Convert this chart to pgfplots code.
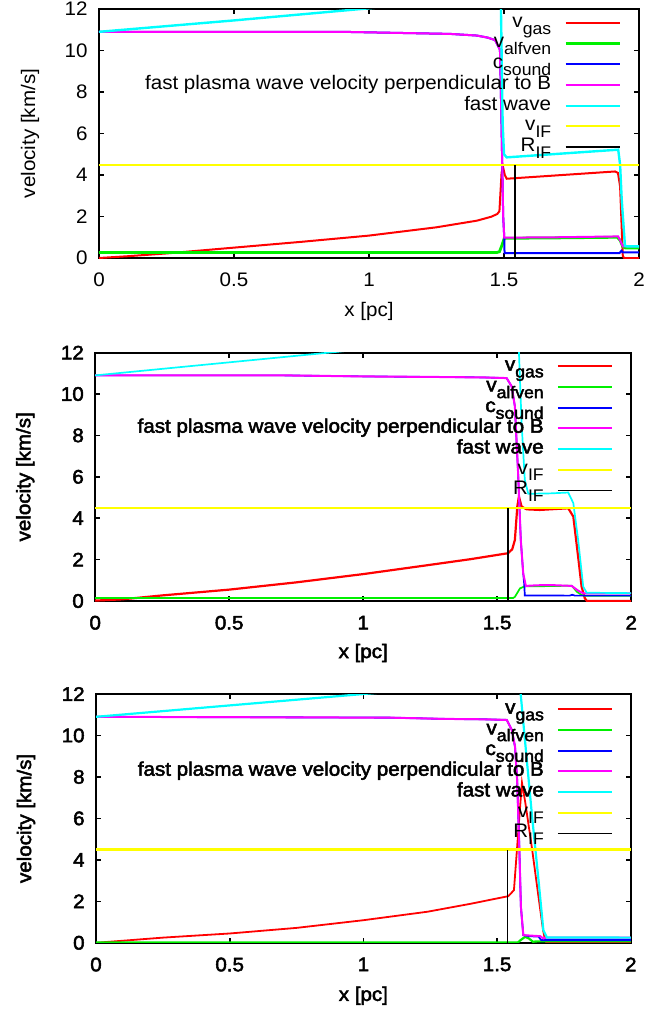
\documentclass[border=0pt]{standalone}
\usepackage{fontspec}
\setmainfont[FakeStretch=1.05]{Liberation Sans}
\newfontfamily\bfake[FakeStretch=1.05,FakeBold=2.5]{Liberation Sans}
\usepackage{pgfplots}
\pgfplotsset{compat=1.18}
\newcommand\sub[1]{\raisebox{-3.4pt}{\fontsize{8.4pt}{8.4pt}\selectfont #1}}
\definecolor{gred}{RGB}{255,0,0}
\definecolor{ggreen}{RGB}{0,240,0}
\definecolor{gblue}{RGB}{0,0,255}
\definecolor{gmag}{RGB}{255,0,255}
\definecolor{gcyan}{RGB}{0,255,255}
\definecolor{gyellow}{RGB}{255,255,0}
\pgfplotsset{
  legend image code/.code={\draw[#1] (0pt,0pt) -- (27pt,0pt);},
  refstyle/.style={
    scale only axis, anchor=south west,
    xmin=0, xmax=2, ymin=0, ymax=12,
    xtick={0,0.5,1,1.5,2}, ytick={0,2,4,6,8,10,12},
    tick align=inside, major tick length=2.5pt, minor tick num=0,
    tick pos=both,
    /pgf/number format/assume math mode=true,
    xlabel={x [pc]}, ylabel={velocity [km/s]},
    yticklabel style={anchor=east, inner sep=0pt, xshift=-5.5pt},
    xticklabel style={anchor=north, inner sep=0pt, yshift=-7.2pt},
    ylabel style={anchor=center, rotate=0},
    xlabel style={at={(axis description cs:0.5,0)}, anchor=center},
    legend cell align=right, legend plot pos=right,
    legend style={draw=none, fill=none, inner sep=0pt, outer sep=0pt,
      row sep=0pt, column sep=6.5pt, anchor=north east,
      nodes={inner sep=0pt, outer sep=0pt, text height=7.3pt, text depth=3.05pt}},
    every axis plot/.append style={no marks, sharp plot},
  },
}
\begin{document}
\begin{tikzpicture}[font=\fontsize{9.8pt}{11.6pt}\selectfont]
\path[use as bounding box] (0pt,0pt) rectangle (335pt,-506pt);
% ---------------- panel 1
\begin{axis}[refstyle,
  at={(49.5pt,-129pt)}, width=270pt, height=124.5pt,
  axis line style={line width=0.75pt}, tick style={line width=0.6pt,black},
  ylabel style={at={(axis description cs:-0.1278,0.5)}},
  xlabel style={yshift=-26.8pt},
  legend style={at={(rel axis cs:1,1)}, xshift=-9pt, yshift=-1.8pt},
  every axis plot/.append style={line width=1pt}]
\addplot[gred] coordinates {(0,0) (0.1,0.08) (0.25,0.22) (0.5,0.5) (0.75,0.78) (1.0,1.08) (1.25,1.48) (1.4,1.8) (1.453,1.99) (1.475,2.12) (1.483,2.25) (1.491,4.1) (1.496,4.41) (1.503,4.0) (1.51,3.82) (1.911,4.17) (1.922,4.1) (1.93,3.45) (1.94,0.1) (1.945,0) (2,0)};
\addlegendentry{v\sub{gas}}
\addplot[ggreen, line width=1.4pt] coordinates {(0,0.27) (1.475,0.27) (1.483,0.3) (1.492,0.6) (1.501,0.95) (1.7,0.97) (1.92,1.0) (1.93,0.85) (1.94,0.55) (1.95,0.48) (2,0.48)};
\addlegendentry{v\sub{alfven}}
\addplot[gblue] coordinates {(0,10.9) (0.9,10.9) (1.1,10.85) (1.3,10.8) (1.4,10.72) (1.44,10.62) (1.467,10.5) (1.485,10.04) (1.49,7) (1.497,2) (1.501,0.98) (1.502,0.24) (1.928,0.24) (1.935,0.35) (1.94,0.27) (2,0.27)};
\addlegendentry{c\sub{sound}}
\addplot[gmag] coordinates {(0,10.9) (0.9,10.9) (1.1,10.85) (1.3,10.8) (1.4,10.72) (1.44,10.62) (1.467,10.5) (1.485,10.04) (1.49,7) (1.497,2) (1.501,0.98) (1.7,1.0) (1.923,1.04) (1.932,0.8) (1.94,0.56) (2,0.56)};
\addlegendentry{fast plasma wave velocity perpendicular to B}
\addplot[gcyan, line width=1.2pt] coordinates {(0,10.9) (0.5,11.45) (0.97,12.0) (1.45,12.55) (1.488,12.6) (1.491,10) (1.495,6.5) (1.5,5.0) (1.51,4.85) (1.923,5.22) (1.93,4.5) (1.936,2.8) (1.948,0.59) (1.955,0.56) (2,0.56)};
\addlegendentry{fast wave}
\addplot[gyellow] coordinates {(0,4.5) (2,4.5)};
\addlegendentry{v\sub{IF}}
\addplot[black] coordinates {(1.542,0) (1.542,4.5)};
\addlegendentry{R\sub{IF}}
\end{axis}
% ---------------- panel 2
\begin{axis}[refstyle,
  at={(47.6pt,-300.5pt)}, width=268pt, height=124.2pt,
  font=\bfake\fontsize{9.8pt}{11.6pt}\selectfont,
  axis line style={line width=1pt}, tick style={line width=0.8pt,black},
  ylabel style={at={(axis description cs:-0.1306,0.5)}},
  xlabel style={yshift=-26pt},
  legend style={at={(rel axis cs:1,1)}, xshift=-9.15pt, yshift=-1.7pt},
  every axis plot/.append style={line width=0.85pt}]
\addplot[gred, line width=1.1pt] coordinates {(0,0.02) (0.1,0.08) (0.25,0.27) (0.5,0.55) (0.75,0.9) (1.0,1.3) (1.24,1.73) (1.4,2.02) (1.541,2.31) (1.556,2.5) (1.566,2.95) (1.575,4.56) (1.581,5.05) (1.591,4.56) (1.61,4.43) (1.659,4.4) (1.765,4.48) (1.784,4.08) (1.802,2.14) (1.815,0.69) (1.827,0.13) (1.835,0) (2,0)};
\addlegendentry{v\sub{gas}}
\addplot[ggreen] coordinates {(0,0.15) (1.56,0.15) (1.566,0.2) (1.585,0.61) (1.603,0.71) (1.7,0.72) (1.778,0.74) (1.797,0.45) (1.815,0.29) (1.83,0.25) (2,0.25)};
\addlegendentry{v\sub{alfven}}
\addplot[gblue] coordinates {(0,10.9) (0.7,10.9) (1.0,10.85) (1.3,10.82) (1.45,10.8) (1.535,10.77) (1.554,10.37) (1.566,9.4) (1.578,6.18) (1.588,2.95) (1.597,1.34) (1.601,0.8) (1.603,0.27) (1.77,0.26) (1.78,0.3) (1.79,0.26) (2,0.26)};
\addlegendentry{c\sub{sound}}
\addplot[gmag, line width=1pt] coordinates {(0,10.9) (0.7,10.9) (1.0,10.85) (1.3,10.82) (1.45,10.8) (1.535,10.77) (1.554,10.37) (1.566,9.4) (1.578,6.18) (1.588,2.95) (1.597,1.34) (1.607,0.73) (1.65,0.76) (1.7,0.77) (1.778,0.73) (1.802,0.5) (1.821,0.37) (2,0.37)};
\addlegendentry{fast plasma wave velocity perpendicular to B}
\addplot[gcyan] coordinates {(0,10.9) (0.873,12) (1.5,12.8) (1.578,12.9) (1.581,12.06) (1.591,8.6) (1.603,5.85) (1.616,5.18) (1.7,5.2) (1.765,5.24) (1.784,4.73) (1.802,2.95) (1.821,0.69) (1.834,0.4) (2,0.38)};
\addlegendentry{fast wave}
\addplot[gyellow, line width=0.7pt] coordinates {(0,4.5) (2,4.5)};
\addlegendentry{\rmfamily v\sub{IF}}
\addplot[black, line width=0.7pt] coordinates {(1.54,0) (1.54,4.5)};
\addlegendentry{\rmfamily R\sub{IF}}
\end{axis}
% ---------------- panel 3
\begin{axis}[refstyle,
  at={(48pt,-471.4pt)}, width=267.4pt, height=124.4pt,
  font=\bfake\fontsize{9.8pt}{11.6pt}\selectfont,
  axis line style={line width=1pt}, tick style={line width=0.8pt,black},
  ylabel style={at={(axis description cs:-0.1309,0.5)}},
  xlabel style={yshift=-26.5pt},
  legend style={at={(rel axis cs:1,1)}, xshift=-8.85pt, yshift=-2.5pt},
  every axis plot/.append style={line width=0.9pt}]
\addplot[gred] coordinates {(0,0) (0.05,0.05) (0.25,0.25) (0.5,0.45) (0.75,0.72) (1.0,1.09) (1.24,1.5) (1.4,1.88) (1.542,2.25) (1.563,2.54) (1.575,4.63) (1.586,6.56) (1.593,7.72) (1.605,6.8) (1.63,4.6) (1.655,2.2) (1.672,0.6) (1.68,0.1) (1.685,0) (2,0)};
\addlegendentry{v\sub{gas}}
\addplot[ggreen, line width=1.1pt] coordinates {(0,0.02) (1.578,0.02) (1.59,0.15) (1.605,0.29) (1.62,0.2) (1.634,0.05) (1.65,0.07) (2,0.07)};
\addlegendentry{v\sub{alfven}}
\addplot[gblue] coordinates {(0,10.9) (1.1,10.86) (1.3,10.8) (1.45,10.78) (1.536,10.75) (1.555,10.27) (1.567,9.46) (1.575,7.85) (1.583,4.63) (1.589,1.74) (1.598,0.37) (1.62,0.32) (1.655,0.3) (1.665,0.13) (2,0.13)};
\addlegendentry{c\sub{sound}}
\addplot[gmag, line width=1pt] coordinates {(0,10.9) (1.1,10.86) (1.3,10.8) (1.45,10.78) (1.536,10.75) (1.555,10.27) (1.567,9.46) (1.575,7.85) (1.583,4.63) (1.589,1.74) (1.598,0.37) (1.661,0.32) (1.673,0.21) (1.68,0.25) (2,0.25)};
\addlegendentry{fast plasma wave velocity perpendicular to B}
\addplot[gcyan, line width=1.1pt] coordinates {(0,10.9) (1.0,12.0) (1.55,12.6) (1.586,12.3) (1.63,6.2) (1.655,3.0) (1.673,0.61) (1.686,0.26) (2,0.25)};
\addlegendentry{fast wave}
\addplot[gyellow, line width=1.1pt] coordinates {(0,4.5) (2,4.5)};
\addlegendentry{\rmfamily v\sub{IF}}
\addplot[black, line width=0.7pt] coordinates {(1.54,0) (1.54,4.5)};
\addlegendentry{\rmfamily R\sub{IF}}
\end{axis}
\end{tikzpicture}
\end{document}
